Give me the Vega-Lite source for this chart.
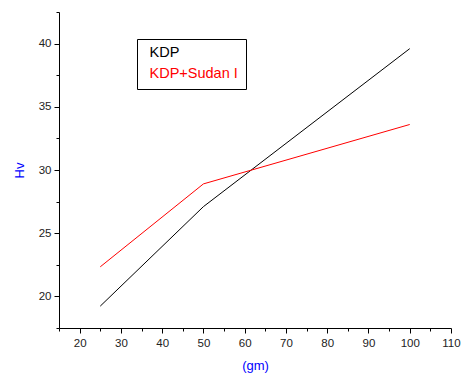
{
  "$schema": "https://vega.github.io/schema/vega-lite/v6.json",
  "autosize": "none",
  "width": 392,
  "height": 316,
  "padding": {"left": 59, "top": 12, "right": 15, "bottom": 46},
  "background": "white",
  "config": {
    "view": {"stroke": null},
    "font": "Liberation Sans",
    "axis": {"grid": false, "domainColor": "black", "tickColor": "black", "labelColor": "#222222", "labelFont": "Liberation Sans", "labelFontSize": 11.5, "titleFont": "Liberation Sans", "titleFontWeight": "normal", "titleFontSize": 13, "titleColor": "#0000FF"}
  },
  "data": {
    "values": [
      {"gm": 25, "Hv": 19.23, "sample": "KDP"},
      {"gm": 50, "Hv": 27.1, "sample": "KDP"},
      {"gm": 100, "Hv": 39.6, "sample": "KDP"},
      {"gm": 25, "Hv": 22.34, "sample": "KDP+Sudan I"},
      {"gm": 50, "Hv": 28.9, "sample": "KDP+Sudan I"},
      {"gm": 100, "Hv": 33.6, "sample": "KDP+Sudan I"}
    ]
  },
  "mark": {"type": "line", "strokeWidth": 1, "clip": true},
  "encoding": {
    "x": {
      "field": "gm", "type": "quantitative",
      "scale": {"domain": [15, 110], "nice": false, "zero": false},
      "axis": {
        "title": "(gm)",
        "values": [15, 20, 25, 30, 35, 40, 45, 50, 55, 60, 65, 70, 75, 80, 85, 90, 95, 100, 105, 110],
        "labelExpr": "datum.value % 10 === 0 ? datum.label : ''",
        "tickSize": {"condition": {"test": "datum.value % 10 === 0", "value": 5}, "value": 3},
        "labelPadding": 4,
        "titlePadding": 11,
        "labelFlush": false,
        "labelOverlap": false
      }
    },
    "y": {
      "field": "Hv", "type": "quantitative",
      "scale": {"domain": [17.5, 42.5], "nice": false, "zero": false},
      "axis": {
        "title": "Hv",
        "values": [17.5, 20, 22.5, 25, 27.5, 30, 32.5, 35, 37.5, 40, 42.5],
        "labelExpr": "datum.value % 5 === 0 ? datum.label : ''",
        "tickSize": {"condition": {"test": "datum.value % 5 === 0", "value": 5}, "value": 3},
        "labelPadding": 3,
        "titlePadding": 12,
        "labelFlush": false,
        "labelOverlap": false
      }
    },
    "color": {
      "field": "sample", "type": "nominal",
      "scale": {"domain": ["KDP", "KDP+Sudan I"], "range": ["black", "red"]},
      "legend": {
        "title": null,
        "orient": "none",
        "legendX": 78,
        "legendY": 27,
        "strokeColor": "black",
        "fillColor": "white",
        "padding": 8,
        "symbolSize": 0,
        "symbolStrokeWidth": 0,
        "symbolOpacity": 0,
        "labelOffset": -10,
        "labelFontSize": 14.5,
        "labelFont": "Liberation Sans",
        "clipHeight": 12,
        "rowPadding": 5.7,
        "encode": {
          "labels": {"update": {"fill": {"signal": "datum.value === 'KDP' ? 'black' : 'red'"}}}
        }
      }
    }
  }
}
